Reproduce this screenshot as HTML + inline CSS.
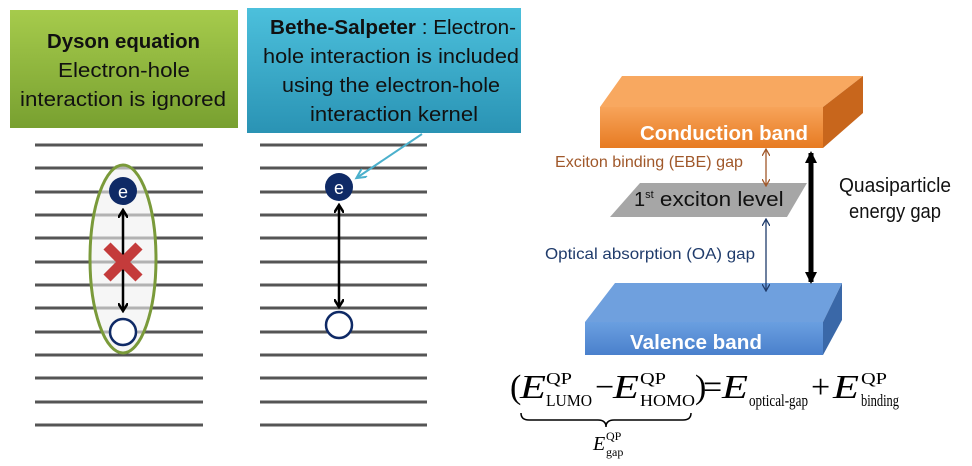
<!DOCTYPE html>
<html><head><meta charset="utf-8"><style>
body{margin:0;background:#fff;}
svg{display:block;font-family:"Liberation Sans",sans-serif;}
</style></head><body>
<svg width="972" height="466" viewBox="0 0 972 466" xmlns="http://www.w3.org/2000/svg">
<defs>
<linearGradient id="g1" x1="0" y1="0" x2="0" y2="1"><stop offset="0" stop-color="#a6cb4c"/><stop offset="1" stop-color="#78a030"/></linearGradient>
<linearGradient id="g2" x1="0" y1="0" x2="0" y2="1"><stop offset="0" stop-color="#4cc0dc"/><stop offset="1" stop-color="#2a93b4"/></linearGradient>
<linearGradient id="or" x1="0" y1="0" x2="0" y2="1"><stop offset="0" stop-color="#f7a45a"/><stop offset="1" stop-color="#e77b22"/></linearGradient>
<linearGradient id="bl" x1="0" y1="0" x2="0" y2="1"><stop offset="0" stop-color="#6a9fe0"/><stop offset="1" stop-color="#4a80cc"/></linearGradient>
<marker id="ah" markerWidth="10" markerHeight="10" refX="7" refY="5" orient="auto-start-reverse" markerUnits="userSpaceOnUse"><path d="M0,0 L8,5 L0,10" fill="none" stroke="#000" stroke-width="2.5"/></marker>
<marker id="ahb" markerWidth="8" markerHeight="8" refX="6" refY="4" orient="auto-start-reverse" markerUnits="userSpaceOnUse"><path d="M0,0 L7,4 L0,8" fill="none" stroke="#a0582a" stroke-width="1.3"/></marker>
<marker id="ahn" markerWidth="8" markerHeight="8" refX="6" refY="4" orient="auto-start-reverse" markerUnits="userSpaceOnUse"><path d="M0,0 L7,4 L0,8" fill="none" stroke="#1f3b6b" stroke-width="1.3"/></marker>
<marker id="ahk" markerWidth="14" markerHeight="12" refX="10" refY="6" orient="auto-start-reverse" markerUnits="userSpaceOnUse"><path d="M0,0 L12,6 L0,12 Z" fill="#000"/></marker>
<marker id="ahc" markerWidth="12" markerHeight="10" refX="8" refY="5" orient="auto" markerUnits="userSpaceOnUse"><path d="M0,0 L10,5 L0,10" fill="none" stroke="#4bb0cc" stroke-width="2"/></marker>
</defs>
<rect x="10" y="10" width="228" height="118" fill="url(#g1)"/>
<g font-size="20" fill="#111">
<text x="47" y="48" font-weight="bold" textLength="153" lengthAdjust="spacingAndGlyphs">Dyson equation</text>
<text x="58" y="77" textLength="132" lengthAdjust="spacingAndGlyphs">Electron-hole</text>
<text x="20" y="106" textLength="206" lengthAdjust="spacingAndGlyphs">interaction is ignored</text>
</g>
<rect x="247" y="8" width="274" height="125" fill="url(#g2)"/>
<g font-size="20" fill="#111">
<text x="270" y="34" textLength="246" lengthAdjust="spacingAndGlyphs"><tspan font-weight="bold">Bethe-Salpeter</tspan> : Electron-</text>
<text x="263" y="63" textLength="256" lengthAdjust="spacingAndGlyphs">hole interaction is included</text>
<text x="282" y="92" textLength="218" lengthAdjust="spacingAndGlyphs">using the electron-hole</text>
<text x="310" y="121" textLength="168" lengthAdjust="spacingAndGlyphs">interaction kernel</text>
</g>
<g stroke="#555" stroke-width="3">
<path d="M35 145H203M35 168H203M35 192H203M35 215H203M35 238H203M35 262H203M35 285H203M35 308H203M35 332H203M35 355H203M35 378H203M35 402H203M35 425H203"/>
<path d="M260 145H427M260 168H427M260 192H427M260 215H427M260 238H427M260 262H427M260 285H427M260 308H427M260 332H427M260 355H427M260 378H427M260 402H427M260 425H427"/>
</g>
<ellipse cx="123" cy="259" rx="33" ry="94" fill="rgba(240,240,240,0.6)" stroke="#7a9a3a" stroke-width="3"/>
<line x1="123" y1="211" x2="123" y2="310" stroke="#000" stroke-width="2.5" marker-start="url(#ah)" marker-end="url(#ah)"/>
<path d="M107 246L139 278M139 246L107 278" stroke="#c43b3b" stroke-width="10"/>
<circle cx="123" cy="191" r="14" fill="#0f2a66"/><text x="123" y="198" text-anchor="middle" font-size="18" fill="#fff">e</text>
<circle cx="123" cy="332" r="13" fill="#fff" stroke="#0f2a66" stroke-width="2.5"/>
<line x1="339" y1="206" x2="339" y2="306" stroke="#000" stroke-width="2.5" marker-start="url(#ah)" marker-end="url(#ah)"/>
<circle cx="339" cy="187" r="14" fill="#0f2a66"/><text x="339" y="194" text-anchor="middle" font-size="18" fill="#fff">e</text>
<circle cx="339" cy="325" r="13" fill="#fff" stroke="#0f2a66" stroke-width="2.5"/>
<line x1="422" y1="134" x2="358" y2="177" stroke="#4bb0cc" stroke-width="2" marker-end="url(#ahc)"/>
<polygon points="600,107 622,76 863,76 823,107" fill="#f8a860"/>
<polygon points="823,107 863,76 863,113 823,148" fill="#c8661c"/>
<rect x="600" y="107" width="223" height="41" fill="url(#or)"/>
<text x="640" y="140" font-size="20" font-weight="bold" fill="#fff" textLength="168" lengthAdjust="spacingAndGlyphs">Conduction band</text>
<polygon points="640,183 807,183 787,217 610,217" fill="#a6a6a6"/>
<text x="634" y="206" font-size="20" fill="#111">1<tspan font-size="11" dy="-8">st</tspan><tspan dy="8" textLength="130" lengthAdjust="spacingAndGlyphs"> exciton level</tspan></text>
<polygon points="585,322 615,283 842,283 823,322" fill="#6fa0de"/>
<polygon points="823,322 842,283 842,320 823,355" fill="#3a68a8"/>
<rect x="585" y="322" width="238" height="33" fill="url(#bl)"/>
<text x="630" y="349" font-size="20" font-weight="bold" fill="#fff" textLength="132" lengthAdjust="spacingAndGlyphs">Valence band</text>
<line x1="766" y1="150" x2="766" y2="185" stroke="#a0582a" stroke-width="1.3" marker-start="url(#ahb)" marker-end="url(#ahb)"/>
<line x1="766" y1="220" x2="766" y2="290" stroke="#1f3b6b" stroke-width="1.3" marker-start="url(#ahn)" marker-end="url(#ahn)"/>
<line x1="811" y1="153" x2="811" y2="282" stroke="#000" stroke-width="5" marker-start="url(#ahk)" marker-end="url(#ahk)"/>
<text x="555" y="167" font-size="16" fill="#a0582a" textLength="188" lengthAdjust="spacingAndGlyphs">Exciton binding (EBE) gap</text>
<text x="545" y="259" font-size="16" fill="#1f3b6b" textLength="210" lengthAdjust="spacingAndGlyphs">Optical absorption (OA) gap</text>
<text x="839" y="192" font-size="20" fill="#111" textLength="112" lengthAdjust="spacingAndGlyphs">Quasiparticle</text>
<text x="849" y="218" font-size="20" fill="#111" textLength="92" lengthAdjust="spacingAndGlyphs">energy gap</text>
<g font-family="'Liberation Serif',serif" fill="#000">
<text x="510" y="398" font-size="34">(</text>
<text x="520" y="398" font-size="34" font-style="italic" textLength="26" lengthAdjust="spacingAndGlyphs">E</text>
<text x="546" y="384" font-size="17" textLength="26" lengthAdjust="spacingAndGlyphs">QP</text>
<text x="546" y="406" font-size="17" textLength="46" lengthAdjust="spacingAndGlyphs">LUMO</text>
<text x="595" y="398" font-size="34">−</text>
<text x="613" y="398" font-size="34" font-style="italic" textLength="26" lengthAdjust="spacingAndGlyphs">E</text>
<text x="640" y="384" font-size="17" textLength="26" lengthAdjust="spacingAndGlyphs">QP</text>
<text x="640" y="406" font-size="17" textLength="55" lengthAdjust="spacingAndGlyphs">HOMO</text>
<text x="695" y="398" font-size="34">)</text>
<text x="703" y="398" font-size="34">=</text>
<text x="722" y="398" font-size="34" font-style="italic" textLength="26" lengthAdjust="spacingAndGlyphs">E</text>
<text x="749" y="406" font-size="17" textLength="59" lengthAdjust="spacingAndGlyphs">optical-gap</text>
<text x="811" y="398" font-size="34">+</text>
<text x="833" y="398" font-size="34" font-style="italic" textLength="26" lengthAdjust="spacingAndGlyphs">E</text>
<text x="861" y="384" font-size="17" textLength="26" lengthAdjust="spacingAndGlyphs">QP</text>
<text x="861" y="406" font-size="17" textLength="38" lengthAdjust="spacingAndGlyphs">binding</text>
<text x="593" y="450" font-size="20" font-style="italic">E</text>
<text x="606" y="440" font-size="12">QP</text>
<text x="606" y="456" font-size="12">gap</text>
</g>
<path d="M521 413 q0 7 8 7 h69 q8 0 8 7 q0 -7 8 -7 h69 q8 0 8 -7" fill="none" stroke="#000" stroke-width="1.5"/>
</svg>
</body></html>
